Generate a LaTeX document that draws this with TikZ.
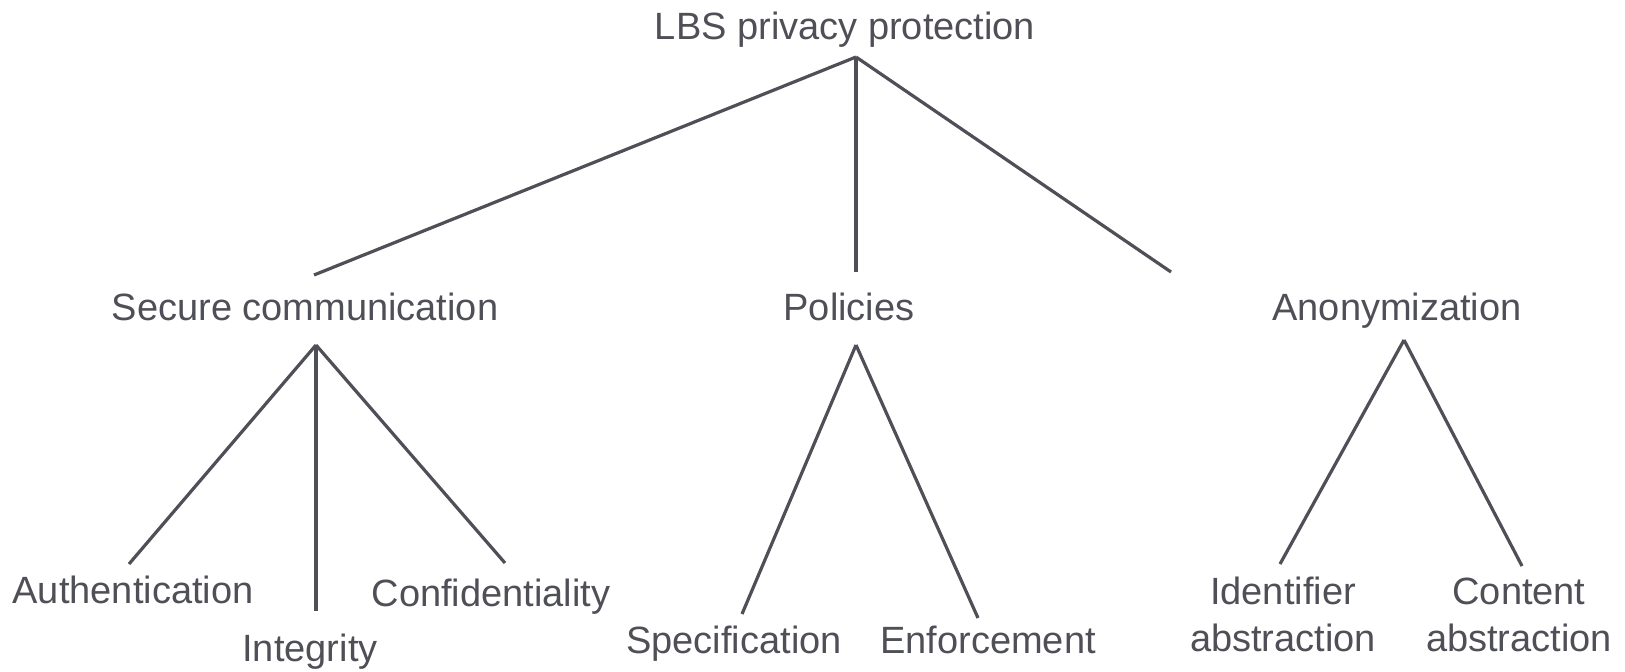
\documentclass[tikz,border=0pt]{standalone}
\usepackage{fontspec}
\setmainfont{Liberation Sans}
\definecolor{ink}{HTML}{4F4F57}
\tikzset{
  lbl/.style={anchor=base,inner sep=0pt,text=ink,font=\fontsize{19}{23.5}\selectfont},
  edge/.style={draw=ink,line width=1.6pt}
}
\begin{document}
\begin{tikzpicture}[x=0.5pt,y=-0.5pt]
\useasboundingbox (0,0) rectangle (1625,671);
% top level
\node[lbl] (root) at (845,39) {LBS privacy protection};
\node[lbl] (sec) at (305,320) {Secure communication};
\node[lbl] (pol) at (849,320) {Policies};
\node[lbl] (anon) at (1397,320) {Anonymization};
% leaves
\node[lbl] (auth) at (133,603) {Authentication};
\node[lbl] (integ) at (310,661) {Integrity};
\node[lbl] (conf) at (491,606) {Confidentiality};
\node[lbl] (spec) at (734,653) {Specification};
\node[lbl] (enf) at (988,653) {Enforcement};
\node[lbl,align=center] (ident) at (1283,651) {Identifier\\abstraction};
\node[lbl,align=center] (cont) at (1519,651) {Content\\abstraction};
% line ends
\coordinate (root-f) at (856,57);
\coordinate (sec-h) at (314,275);
\coordinate (sec-f) at (316,345);
\coordinate (pol-h) at (856,272);
\coordinate (pol-f) at (856,345);
\coordinate (anon-h) at (1171,272);
\coordinate (anon-f) at (1404,340);
\coordinate (auth-h) at (129,564);
\coordinate (integ-h) at (316,611);
\coordinate (conf-h) at (505,563);
\coordinate (spec-h) at (742,614);
\coordinate (enf-h) at (978,618);
\coordinate (ident-h) at (1280,564);
\coordinate (cont-h) at (1522,566);
% edges
\foreach \a/\b in {root-f/sec-h,root-f/pol-h,root-f/anon-h,
  sec-f/auth-h,sec-f/integ-h,sec-f/conf-h,
  pol-f/spec-h,pol-f/enf-h,
  anon-f/ident-h,anon-f/cont-h}
\draw[edge] (\a) -- (\b);
\end{tikzpicture}
\end{document}
